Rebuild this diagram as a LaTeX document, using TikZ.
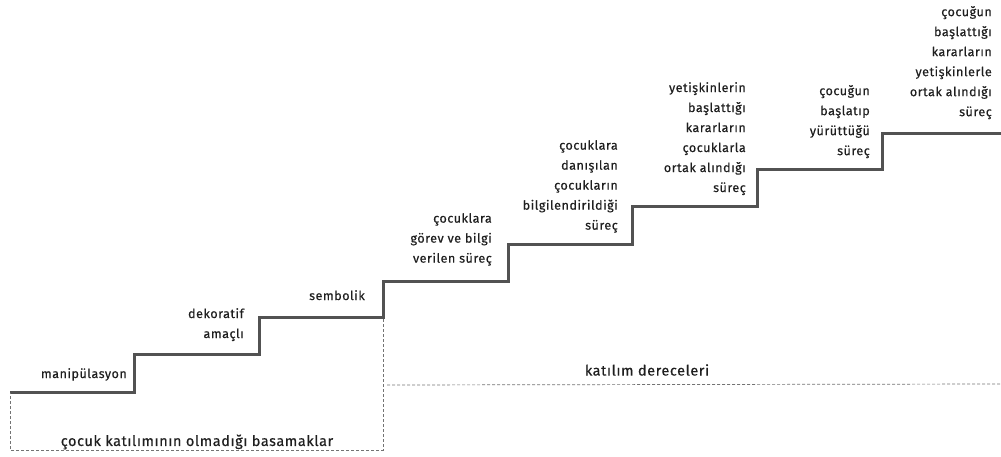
\documentclass[tikz,border=0pt]{standalone}
\usepackage{fontspec}
\setmainfont{Fira Sans}[LetterSpace=4,FakeBold=0.4]
\begin{document}
\begin{tikzpicture}[x=1pt,y=-1pt,
  lbl/.style={anchor=north east,align=right,inner sep=0pt,text=black!88,
    font=\fontsize{12.6}{20}\selectfont},
  big/.style={inner sep=0pt,text=black!88,font=\fontsize{14.5}{18}\selectfont},
  stair/.style={draw=black!68,line width=3pt,line join=miter},
  dsh/.style={draw=black!55,dashed,dash pattern=on 3pt off 2pt,line width=0.7pt}]
\useasboundingbox (0,0) rectangle (1001,457);
% staircase
\draw[stair] (10,392) -- (134,392) -- (134,354) -- (259,354) -- (259,317)
  -- (383,317) -- (383,281) -- (508,281) -- (508,244) -- (632,244) -- (632,207)
  -- (757,207) -- (757,170) -- (882,170) -- (882,134) -- (1001,134);
% dashed box and line
\draw[dsh] (383,319) -- (383,450) -- (10,450) -- (10,393);
\draw[dsh] (387,385) -- (1001,384);
% labels
\node[lbl] (l1) at (127,368) {manipülasyon};
\node[lbl] (l2) at (244,308) {dekoratif\\amaçlı};
\node[lbl] (l3) at (365,290) {sembolik};
\node[lbl] (l4) at (492,213) {çocuklara\\görev ve bilgi\\verilen süreç};
\node[lbl] (l5) at (618,140) {çocuklara\\danışılan\\çocukların\\bilgilendirildiği\\süreç};
\node[lbl] (l6) at (746,82) {yetişkinlerin\\başlattığı\\kararların\\çocuklarla\\ortak alındığı\\süreç};
\node[lbl] (l7) at (870,85) {çocuğun\\başlatıp\\yürüttüğü\\süreç};
\node[lbl] (l8) at (992,6) {çocuğun\\başlattığı\\kararların\\yetişkinlerle\\ortak alındığı\\süreç};
\node[big] (t1) at (197,442) {çocuk katılımının olmadığı basamaklar};
\node[big] (t2) at (647,370) {katılım dereceleri};
\end{tikzpicture}
\end{document}
